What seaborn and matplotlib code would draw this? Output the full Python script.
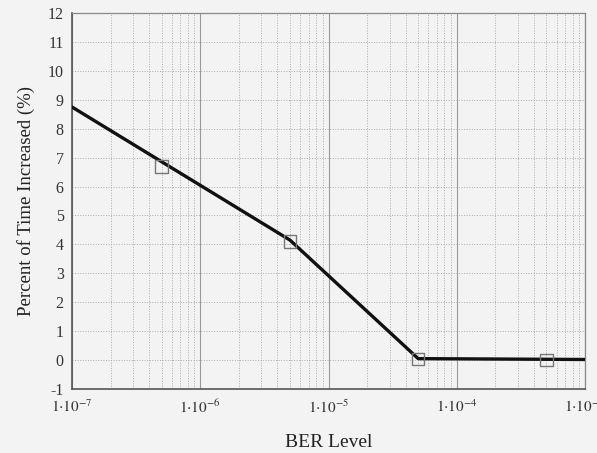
import numpy as np
import pandas as pd
import matplotlib
matplotlib.use("Agg")
import matplotlib.pyplot as plt
import matplotlib.ticker as mticker
import seaborn as sns

# curve through the chart
line_ber = [1e-7, 5e-6, 5e-5, 1e-3]
line_pct = [8.75, 4.15, 0.05, 0.02]

# measured points (open squares)
point_ber = [5e-7, 5e-6, 5e-5, 5e-4]
point_pct = [6.7, 4.1, 0.03, 0.0]

y_ticks = list(range(-1, 13))

sns.set_style("white")
plt.rcParams['font.family'] = ['Liberation Serif', 'DejaVu Serif']
plt.rcParams['mathtext.fontset'] = 'stix'
plt.rcParams['axes.unicode_minus'] = False

bg = '#f3f3f3'
fig = plt.figure(figsize=(5.97, 4.53), dpi=100, facecolor=bg)
ax = fig.add_axes([0.1206, 0.1413, 0.8594, 0.83])
ax.set_facecolor(bg)

df_line = pd.DataFrame({'ber': line_ber, 'pct': line_pct})
df_pts = pd.DataFrame({'ber': point_ber, 'pct': point_pct})

ax.set_xscale('log')
sns.lineplot(data=df_line, x='ber', y='pct', ax=ax, color='#111111', linewidth=2.4, zorder=3)
sns.scatterplot(data=df_pts, x='ber', y='pct', ax=ax, marker='s', s=80,
                facecolor='none', edgecolor='#777777', linewidth=1.0, zorder=4)

ax.set_xlim(1e-7, 1e-3)
ax.set_ylim(-1, 12)
ax.set_yticks(y_ticks)

def fmt(v, pos):
    e = int(round(np.log10(v)))
    return r"$1{\cdot}10^{%d}$" % e

ax.xaxis.set_major_locator(mticker.LogLocator(base=10, numticks=10))
ax.xaxis.set_minor_locator(mticker.LogLocator(base=10, subs=np.arange(2, 10), numticks=20))
ax.xaxis.set_major_formatter(mticker.FuncFormatter(fmt))
ax.xaxis.set_minor_formatter(mticker.NullFormatter())

ax.grid(True, which='major', axis='x', color='#999999', linewidth=0.8, linestyle='-')
ax.grid(True, which='minor', axis='x', color='#aaaaaa', linewidth=0.7, linestyle=':')
ax.grid(True, which='major', axis='y', color='#aaaaaa', linewidth=0.7, linestyle=':')

ax.tick_params(axis='y', which='both', length=0, labelsize=11.5, colors='#333333', pad=6)
ax.tick_params(axis='x', which='both', length=0, labelsize=11, colors='#333333', pad=7)
for sp in ax.spines.values():
    sp.set_color('#888888')
    sp.set_linewidth(0.9)
ax.spines['left'].set_color('#555555')
ax.spines['bottom'].set_color('#555555')
ax.spines['left'].set_linewidth(1.2)
ax.spines['bottom'].set_linewidth(1.2)

ax.set_xlabel('BER Level', fontsize=14, color='#222222', labelpad=13)
ax.set_ylabel('Percent of Time Increased (%)', fontsize=13.5, color='#222222', labelpad=9)

fig.savefig('out.png', dpi=100, facecolor=bg)
